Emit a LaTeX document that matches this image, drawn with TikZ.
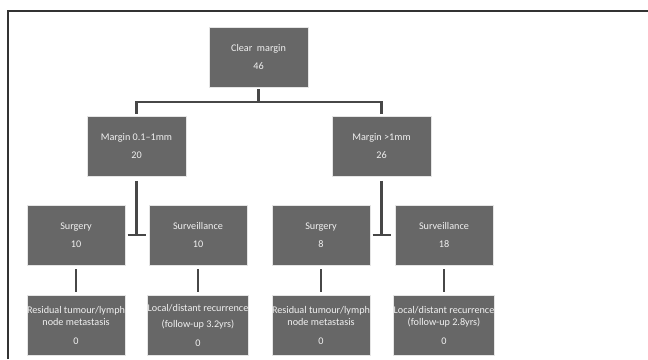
\documentclass[tikz,border=0pt]{standalone}
\usepackage{fontspec}
\setmainfont{Carlito}
\usepackage{tikz}
\usetikzlibrary{positioning}

\definecolor{boxgray}{HTML}{676767}
\definecolor{boxtext}{HTML}{F0F0F0}
\definecolor{linegray}{HTML}{474747}
\definecolor{framegray}{HTML}{333333}

\begin{document}
\begin{tikzpicture}[
    x=1pt, y=-1pt,
    box/.style={rectangle, fill=boxgray, draw=white!80!gray, line width=0.5pt,
        minimum width=98.5pt, minimum height=60pt, inner sep=0pt,
        text=boxtext, align=center, font=\fontsize{10.2}{12}\selectfont,
        execute at begin node=\rule{0pt}{11pt}},
    link/.style={draw=linegray, line width=2.4pt},
    frame/.style={draw=framegray, line width=1.3pt}
]
    \useasboundingbox (0,0) rectangle (648,359);
    \fill[white] (0,0) rectangle (648,359);

    % outer frame (cut off at right and bottom)
    \draw[frame] (8,359) -- (8,11) -- (648,11);

    \node[box] (clear) at (258.5,57) {Clear\ \ margin\\[6pt]46};
    \node[box, below left=29pt and 23pt of clear] (m1) {Margin 0.1--1mm\\[6pt]20};
    \node[box, below right=29pt and 24pt of clear] (m2) {Margin >1mm\\[6pt]26};

    \node[box, below=28pt of m1, xshift=-60.5pt] (surg1) {Surgery\\[6pt]10};
    \node[box, right=23pt of surg1] (surv1) {Surveillance\\[6pt]10};
    \node[box, right=24pt of surv1] (surg2) {Surgery\\[6pt]8};
    \node[box, right=24pt of surg2] (surv2) {Surveillance\\[6pt]18};

    \node[box, below=30pt of surg1] (res1) {Residual tumour/lymph\\node metastasis\\[7pt]0};
    \node[box, below=30pt of surv1] (rec1) {Local/distant recurrence\\[4pt](follow-up 3.2yrs)\\[7pt]0};
    \node[box, below=30pt of surg2] (res2) {Residual tumour/lymph\\node metastasis\\[7pt]0};
    \node[box, below=30pt of surv2] (rec2) {Local/distant recurrence\\(follow-up 2.8yrs)\\[7pt]0};

    % branches
    \coordinate (split) at ([yshift=-15pt]clear.south);
    \draw[link, shorten <=2pt] (clear.south) -- (split);
    \draw[link, shorten >=2pt] (split) -| (m1.north);
    \draw[link, shorten >=2pt] (split) -| (m2.north);

    \coordinate (t1) at (m1.south |- surg1.east);
    \coordinate (t2) at (m2.south |- surg2.east);
    \draw[link, shorten <=4pt] (m1.south) -- (t1);
    \draw[link, shorten <=4pt] (m2.south) -- (t2);
    \draw[link] ([xshift=-9pt]t1) -- ([xshift=9pt]t1);
    \draw[link] ([xshift=-9pt]t2) -- ([xshift=9pt]t2);

    \draw[link, shorten <=4pt, shorten >=3pt] (surg1) -- (res1);
    \draw[link, shorten <=4pt, shorten >=3pt] (surv1) -- (rec1);
    \draw[link, shorten <=4pt, shorten >=3pt] (surg2) -- (res2);
    \draw[link, shorten <=4pt, shorten >=3pt] (surv2) -- (rec2);
\end{tikzpicture}
\end{document}
